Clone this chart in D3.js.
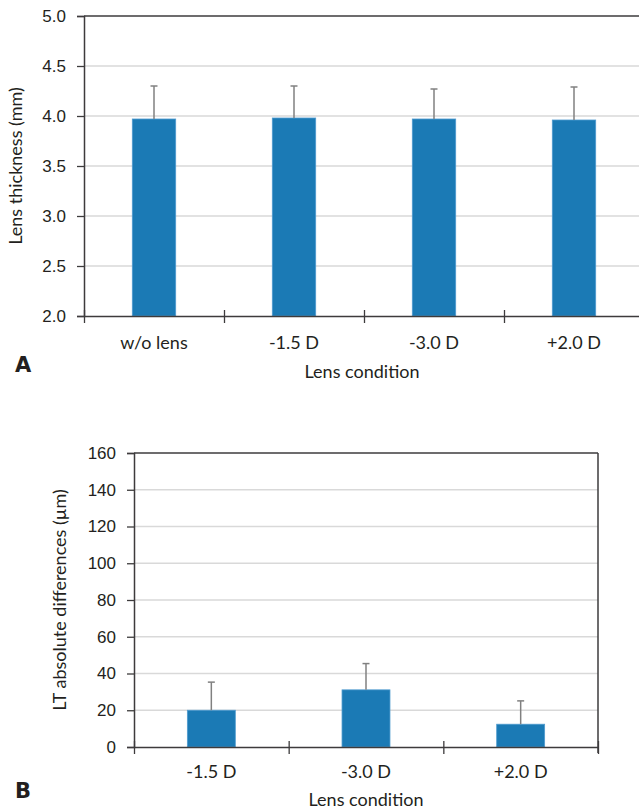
<!DOCTYPE html>
<html>
<head>
<meta charset="utf-8">
<script src="https://cdn.jsdelivr.net/npm/d3@7"></script>
<style>
  body { margin: 0; background: #fff; }
  svg { display: block; font-family: Lato, "Open Sans", sans-serif; }
  .tick text { fill: #231f20; font-size: 17px; }
</style>
</head>
<body>
<svg id="chart" width="639" height="812"></svg>
<script>
// Panel A data: lens thickness (mm)
var catsA = ["w/o lens", "-1.5 D", "-3.0 D", "+2.0 D"];
var meanA = [3.97, 3.98, 3.97, 3.96];
var errA  = [0.33, 0.32, 0.30, 0.33];
var ticksA = [2.0, 2.5, 3.0, 3.5, 4.0, 4.5, 5.0];

// Panel B data: LT absolute differences (µm)
var catsB = ["-1.5 D", "-3.0 D", "+2.0 D"];
var meanB = [20.0, 31.1, 12.4];
var errB  = [15.3, 14.3, 12.7];
var ticksB = [0, 20, 40, 60, 80, 100, 120, 140, 160];

var barColor = "#1b7ab5";
var axisColor = "#3d3b3c";
var gridColor = "#d9d9d9";
var textColor = "#231f20";

var svg = d3.select("#chart");

//Draws one bar panel
function panel(opt)
{
    var g = svg.append("g");
    var n = opt.cats.length;

    var y = d3.scaleLinear().domain(opt.yDomain).range([opt.bottom, opt.top]);
    var x = d3.scaleBand().domain(opt.cats).range([opt.left, opt.right])
        .paddingInner(0.69).paddingOuter(0.345);
    var xEdge = d3.scaleLinear().domain([0, n]).range([opt.left, opt.right]);

    //Gridlines
    g.selectAll(".grid")
        .data(opt.ticks.filter(function(t) { return t !== opt.yDomain[0] && t !== opt.yDomain[1]; }))
        .enter().append("line")
        .attr("x1", opt.left).attr("x2", opt.right)
        .attr("y1", function(d) { return y(d); })
        .attr("y2", function(d) { return y(d); })
        .style("stroke", gridColor).style("stroke-width", 1.3);

    //Top border
    g.append("line")
        .attr("x1", opt.left).attr("x2", opt.right)
        .attr("y1", y(opt.yDomain[1])).attr("y2", y(opt.yDomain[1]))
        .style("stroke", axisColor).style("stroke-width", 1.5);

    if (opt.rightBorder) {
        g.append("line")
            .attr("x1", opt.right).attr("x2", opt.right)
            .attr("y1", y(opt.yDomain[1])).attr("y2", opt.bottom + 6)
            .style("stroke", axisColor).style("stroke-width", 1.5);
    }

    //Bars
    g.selectAll(".bar")
        .data(opt.mean)
        .enter().append("rect")
        .attr("x", function(d, i) { return x(opt.cats[i]); })
        .attr("y", function(d) { return y(d); })
        .attr("width", x.bandwidth())
        .attr("height", function(d) { return opt.bottom - y(d); })
        .style("fill", barColor)
        .style("stroke", "#4f9bcf").style("stroke-width", 0.8);

    //Error bars (upper only)
    var eb = g.selectAll(".err")
        .data(opt.mean)
        .enter().append("g");
    eb.append("line")
        .attr("x1", function(d, i) { return x(opt.cats[i]) + x.bandwidth() / 2; })
        .attr("x2", function(d, i) { return x(opt.cats[i]) + x.bandwidth() / 2; })
        .attr("y1", function(d) { return y(d); })
        .attr("y2", function(d, i) { return y(d + opt.err[i]); })
        .style("stroke", "#808080").style("stroke-width", 1.5);
    eb.append("line")
        .attr("x1", function(d, i) { return x(opt.cats[i]) + x.bandwidth() / 2 - 3.5; })
        .attr("x2", function(d, i) { return x(opt.cats[i]) + x.bandwidth() / 2 + 3.5; })
        .attr("y1", function(d, i) { return y(d + opt.err[i]); })
        .attr("y2", function(d, i) { return y(d + opt.err[i]); })
        .style("stroke", "#808080").style("stroke-width", 1.5);

    //Y axis
    var yAxis = g.append("g")
        .attr("transform", "translate(" + opt.left + ",0)")
        .call(d3.axisLeft(y).tickValues(opt.ticks).tickFormat(opt.fmt).tickSize(7).tickPadding(11));
    yAxis.select(".domain").style("stroke", axisColor).style("stroke-width", 1.5);
    yAxis.selectAll(".tick line").style("stroke", axisColor).style("stroke-width", 1.3);

    //X axis: line with ticks at category edges, labels at centres
    var xAxis = g.append("g")
        .attr("transform", "translate(0," + opt.bottom + ")")
        .call(d3.axisBottom(xEdge).ticks(n).tickFormat("").tickSizeOuter(0));
    xAxis.select(".domain").style("stroke", axisColor).style("stroke-width", 1.5);
    xAxis.selectAll(".tick line")
        .attr("y1", -6).attr("y2", 7)
        .style("stroke", axisColor).style("stroke-width", 1.3);

    g.selectAll(".xlab")
        .data(opt.cats)
        .enter().append("text")
        .attr("x", function(d) { return x(d) + x.bandwidth() / 2; })
        .attr("y", opt.bottom + opt.xLabDy)
        .attr("text-anchor", "middle")
        .style("fill", textColor).style("font-size", "18px")
        .text(function(d) { return d; });

    //Axis titles
    g.append("text")
        .attr("transform", "translate(" + opt.yTitleX + "," + ((opt.top + opt.bottom) / 2) + ") rotate(-90)")
        .attr("text-anchor", "middle")
        .style("fill", textColor).style("font-size", "18px")
        .text(opt.yTitle);

    g.append("text")
        .attr("x", opt.xTitleX)
        .attr("y", opt.xTitleY)
        .attr("text-anchor", "middle")
        .style("fill", textColor).style("font-size", "18px")
        .text("Lens condition");

    //Panel letter
    g.append("text")
        .attr("x", 15)
        .attr("y", opt.letterY)
        .style("fill", textColor)
        .style("font-family", "'DejaVu Sans', sans-serif")
        .style("font-weight", "bold").style("font-size", "21px")
        .text(opt.letter);
}

panel({
    cats: catsA, mean: meanA, err: errA, ticks: ticksA,
    yDomain: [2.0, 5.0], fmt: d3.format(".1f"),
    left: 84, right: 644, top: 16, bottom: 316, rightBorder: false,
    xLabDy: 33, yTitleX: 22, yTitle: "Lens thickness (mm)",
    xTitleX: 362, xTitleY: 378, letter: "A", letterY: 372
});

panel({
    cats: catsB, mean: meanB, err: errB, ticks: ticksB,
    yDomain: [0, 160], fmt: d3.format("d"),
    left: 134, right: 598, top: 453, bottom: 747, rightBorder: true,
    xLabDy: 31, yTitleX: 66, yTitle: "LT absolute differences (µm)",
    xTitleX: 366, xTitleY: 806, letter: "B", letterY: 798
});
</script>
</body>
</html>
